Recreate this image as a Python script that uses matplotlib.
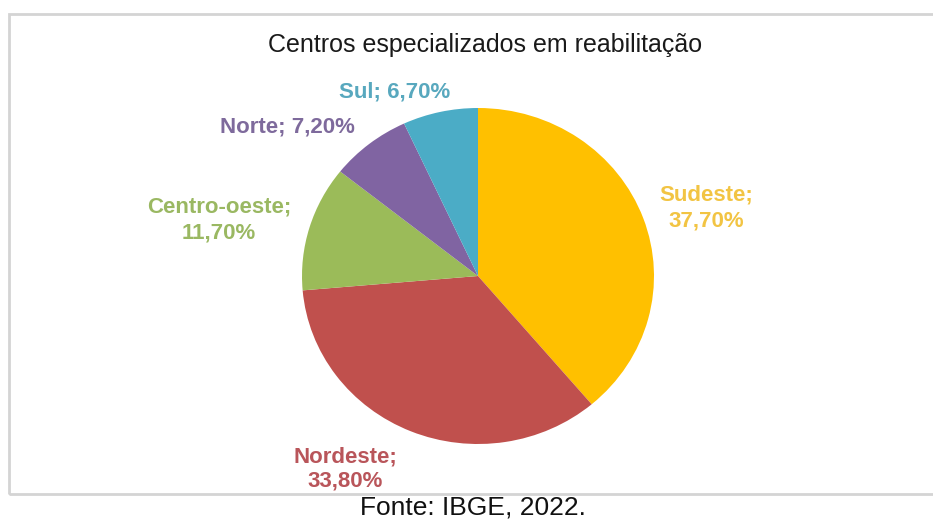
import matplotlib
matplotlib.use("Agg")
import matplotlib.pyplot as plt
from matplotlib.patches import Rectangle

regions = ["Sudeste", "Nordeste", "Centro-oeste", "Norte", "Sul"]
values = [37.7, 33.8, 11.7, 7.2, 6.7]
label_texts = ["Sudeste;\n37,70%", "Nordeste;\n33,80%", "Centro-oeste;\n11,70%",
               "Norte; 7,20%", "Sul; 6,70%"]
colors = ["#FFC000", "#C0504D", "#9BBB59", "#8064A2", "#4BACC6"]
label_colors = ["#F2C443", "#B9555A", "#9AB862", "#7E6A9C", "#58A8BE"]
title = "Centros especializados em reabilitação"
source = "Fonte: IBGE, 2022."

W, H = 933, 520
fig = plt.figure(figsize=(W / 100, H / 100), dpi=100)
plt.rcParams['font.family'] = ['Liberation Sans', 'DejaVu Sans']

def fx(x):
    return x / W

def fy(y):
    return 1 - y / H

# frame
fig.patches.append(Rectangle((fx(9), fy(494)), fx(940) - fx(9), fy(14) - fy(494),
                             transform=fig.transFigure, fill=False,
                             edgecolor="#d4d4d4", lw=2))

# pie axes
cx, cy, rx, ry = 478, 276, 176, 168
ax = fig.add_axes([fx(cx - rx), fy(cy + ry), 2 * rx / W, 2 * ry / H])
ax.pie(values, colors=colors, startangle=90, counterclock=False,
       wedgeprops=dict(linewidth=0))
ax.set_aspect('auto')
ax.set_xlim(-1, 1)
ax.set_ylim(-1, 1)
ax.axis('off')

fig.text(fx(485), fy(45), title, ha='center', va='center', fontsize=18, color="#1a1a1a")

label_pos = [(706, 208), (345, 469), (219, 220), (287, 127), (395, 92)]
for txt, (x, y), c in zip(label_texts, label_pos, label_colors):
    fig.text(fx(x), fy(y), txt, ha='center', va='center', fontsize=16,
             fontweight='bold', color=c, linespacing=1.25)

fig.text(fx(473), fy(508), source, ha='center', va='center', fontsize=19, color="#111111")

fig.savefig("out.png", dpi=100)
